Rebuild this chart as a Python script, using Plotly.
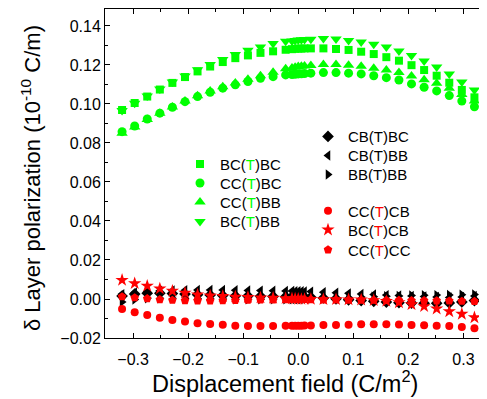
import plotly.graph_objects as go

# Displacement field values (C/m^2)
field = [-0.32, -0.2971, -0.2743, -0.2514, -0.2286, -0.2057, -0.1829, -0.16, -0.1371,
         -0.1143, -0.0914, -0.0686, -0.0457, -0.0229,
         -0.0114, -0.0057, 0.0, 0.0057, 0.0114,
         0.0229, 0.0457, 0.0686, 0.0914, 0.1143, 0.1371, 0.16, 0.1829, 0.2057,
         0.2286, 0.2514, 0.2743, 0.2971, 0.32]

# green group
bc_t_bc = [0.0969, 0.1005, 0.1038, 0.1074, 0.1108, 0.1138, 0.1167, 0.1192, 0.1215, 0.1235, 0.1249, 0.1262, 0.1270, 0.1278,
           0.1281, 0.1283, 0.1284, 0.1284, 0.1285,
           0.1285, 0.1285, 0.1282, 0.1277, 0.1268, 0.1256, 0.1240, 0.1222, 0.1199, 0.1174, 0.1145, 0.1109, 0.1072, 0.1034]
cc_t_bc = [0.0858, 0.0887, 0.0923, 0.0953, 0.0983, 0.1012, 0.1038, 0.1060, 0.1081, 0.1098, 0.1115, 0.1132, 0.1140, 0.1149,
           0.1151, 0.1152, 0.1154, 0.1155, 0.1156,
           0.1158, 0.1161, 0.1161, 0.1158, 0.1154, 0.1145, 0.1135, 0.1123, 0.1103, 0.1086, 0.1067, 0.1043, 0.1015, 0.0986]
cc_t_bb = [0.0850, 0.0882, 0.0920, 0.0953, 0.0985, 0.1015, 0.1042, 0.1066, 0.1088, 0.1108, 0.1127, 0.1145, 0.1163, 0.1180,
           0.1184, 0.1188, 0.1192, 0.1194, 0.1195,
           0.1197, 0.1202, 0.1202, 0.1199, 0.1193, 0.1183, 0.1174, 0.1161, 0.1144, 0.1124, 0.1106, 0.1081, 0.1048, 0.1015]
bc_t_bb = [0.0966, 0.1004, 0.1041, 0.1077, 0.1113, 0.1144, 0.1175, 0.1202, 0.1228, 0.1254, 0.1275, 0.1292, 0.1310, 0.1321,
           0.1323, 0.1325, 0.1328, 0.1329, 0.1330,
           0.1332, 0.1336, 0.1333, 0.1326, 0.1318, 0.1306, 0.1292, 0.1272, 0.1249, 0.1221, 0.1190, 0.1154, 0.1113, 0.1072]

# black group
cb_t_bc = [0.0015, 0.0025, 0.0030, 0.0030, 0.0028, 0.0025, 0.0022, 0.0020, 0.0018, 0.0016, 0.0015, 0.0014, 0.0013, 0.0012,
           0.0012, 0.0011, 0.0011, 0.0010, 0.0010,
           0.0009, 0.0005, 0.0001, -0.0004, -0.0008, -0.0012, -0.0016, -0.0019, -0.0021, -0.0022, -0.0022, -0.0020, -0.0015, -0.0008]
cb_t_bb = [0.0025, 0.0033, 0.0038, 0.0042, 0.0044, 0.0045, 0.0046, 0.0046, 0.0046, 0.0045, 0.0044, 0.0043, 0.0042, 0.0041,
           0.0041, 0.0040, 0.0040, 0.0040, 0.0039,
           0.0038, 0.0035, 0.0032, 0.0029, 0.0026, 0.0023, 0.0020, 0.0018, 0.0016, 0.0013, 0.0010, 0.0008, 0.0010, 0.0015]
bb_t_bb = [-0.0015, -0.0003, 0.0003, 0.0004, 0.0004, 0.0003, 0.0002, 0.0001, 0.0000, -0.0001, -0.0002, -0.0002, -0.0002, -0.0002,
           -0.0001, 0.0, 0.0, 0.0, 0.0001,
           0.0002, 0.0004, 0.0006, 0.0008, 0.0010, 0.0012, 0.0014, 0.0016, 0.0018, 0.0019, 0.0020, 0.0021, 0.0022, 0.0023]

# red group
cc_t_cb = [-0.0051, -0.0068, -0.0082, -0.0096, -0.0108, -0.0116, -0.0125, -0.0128, -0.0132, -0.0137, -0.0138, -0.0138, -0.0138, -0.0137,
           -0.0137, -0.0137, -0.0137, -0.0137, -0.0136,
           -0.0136, -0.0133, -0.0133, -0.0132, -0.0130, -0.0130, -0.0130, -0.0131, -0.0133, -0.0135, -0.0137, -0.0138, -0.0144, -0.0150]
bc_t_cb = [0.0097, 0.0080, 0.0067, 0.0053, 0.0041, 0.0031, 0.0022, 0.0017, 0.0014, 0.0011, 0.0009, 0.0007, 0.0005, 0.0003,
           0.0002, 0.0001, 0.0, -0.0001, -0.0001,
           -0.0001, -0.0002, -0.0002, -0.0003, -0.0004, -0.0007, -0.0011, -0.0018, -0.0028, -0.0038, -0.0050, -0.0064, -0.0077, -0.0095]
cc_t_cc = [0.0012, 0.0007, 0.0002, -0.0003, -0.0006, -0.0008, -0.0009, -0.0009, -0.0008, -0.0007, -0.0006, -0.0005, -0.0004, -0.0003,
           -0.0002, -0.0002, -0.0002, -0.0002, -0.0002,
           -0.0003, -0.0004, -0.0005, -0.0006, -0.0006, -0.0006, -0.0007, -0.0007, -0.0008, -0.0008, -0.0009, -0.0010, -0.0011, -0.0012]

GREEN = "#00ff00"
RED = "#ff0000"
BLACK = "#000000"
FONT = "Arial, Liberation Sans, sans-serif"

X_TITLE = "Displacement field (C/m<sup>2</sup>)"
Y_TITLE = "δ Layer polarization (10<sup>-10</sup> C/m)"


def lab(a, b, col):
    return f"{a}(<span style='color:{col}'>T</span>){b}"


# figure geometry (page body adds an 8px offset)
W, H = 479, 391
L, R, T, B = 97, 1, 1, 61
pw, ph = W - L - R, H - T - B


def px(x):
    return (x - L) / pw


def py(y):
    return (H - B - y) / ph


# (values, label, colour, symbol, size, legend x-left px, legend row centre px)
series = [
    (bc_t_bc, lab("BC", "BC", GREEN), GREEN, "square", 8, 172, 156.3),
    (cc_t_bc, lab("CC", "BC", GREEN), GREEN, "circle", 9, 172, 175.3),
    (cc_t_bb, lab("CC", "BB", GREEN), GREEN, "triangle-up", 10, 172, 194.3),
    (bc_t_bb, lab("BC", "BB", GREEN), GREEN, "triangle-down", 10, 172, 213.7),
    (cb_t_bc, "CB(T)BC", BLACK, "diamond", 9, 300, 128.7),
    (cb_t_bb, "CB(T)BB", BLACK, "triangle-left", 9, 300, 147.7),
    (bb_t_bb, "BB(T)BB", BLACK, "triangle-right", 9, 300, 166.7),
    (cc_t_cb, lab("CC", "CB", RED), RED, "circle", 8, 300, 203.0),
    (bc_t_cb, lab("BC", "CB", RED), RED, "star", 10, 300, 222.0),
    (cc_t_cc, lab("CC", "CC", RED), RED, "pentagon", 9, 300, 242.0),
]

fig = go.Figure()
legends = {}
legfont = dict(family=FONT, size=15, color="black")
for i, (ys, name, col, sym, size, lx, ly) in enumerate(series):
    key = "legend" if i == 0 else f"legend{i + 1}"
    fig.add_trace(go.Scatter(x=field, y=ys, mode="markers", name=name, legend=key, showlegend=True,
                             marker=dict(symbol=sym, size=size, color=col, line=dict(width=0))))
    legends[key] = dict(x=px(lx), y=py(ly), xanchor="left", yanchor="middle",
                        bgcolor="rgba(0,0,0,0)", font=legfont, itemclick=False)

fig.update_layout(
    width=W, height=H, showlegend=True,
    margin=dict(l=L, r=R, t=T, b=B, autoexpand=False),
    paper_bgcolor="white", plot_bgcolor="white",
    font=dict(family=FONT, size=16, color="black"),
    xaxis=dict(range=[-0.351, 0.341], dtick=0.1, tick0=0, tickformat=".1f", automargin=False,
               ticks="inside", ticklen=5, tickwidth=1, tickcolor="black",
               minor=dict(ticks="inside", ticklen=3, dtick=0.05, tickcolor="black"),
               showline=True, linecolor="black", linewidth=1, mirror="ticks",
               showgrid=False, zeroline=False, ticklabelstandoff=7,
               tickfont=dict(size=16)),
    yaxis=dict(range=[-0.02, 0.1487], dtick=0.02, tick0=0, tickformat=".2f", automargin=False,
               ticks="inside", ticklen=5, tickwidth=1, tickcolor="black",
               minor=dict(ticks="inside", ticklen=3, dtick=0.01, tickcolor="black"),
               showline=True, linecolor="black", linewidth=1, mirror="ticks",
               showgrid=False, zeroline=False,
               tickfont=dict(size=16)),
    annotations=[
        dict(text=X_TITLE, xref="paper", yref="paper", x=px(277), y=py(374),
             xanchor="center", yanchor="middle", showarrow=False, font=dict(size=23.5)),
        dict(text=Y_TITLE, xref="paper", yref="paper", x=px(23), y=py(170), textangle=-90,
             xanchor="center", yanchor="middle", showarrow=False, font=dict(size=22)),
    ],
    **legends,
)

fig.write_html("out.html")
